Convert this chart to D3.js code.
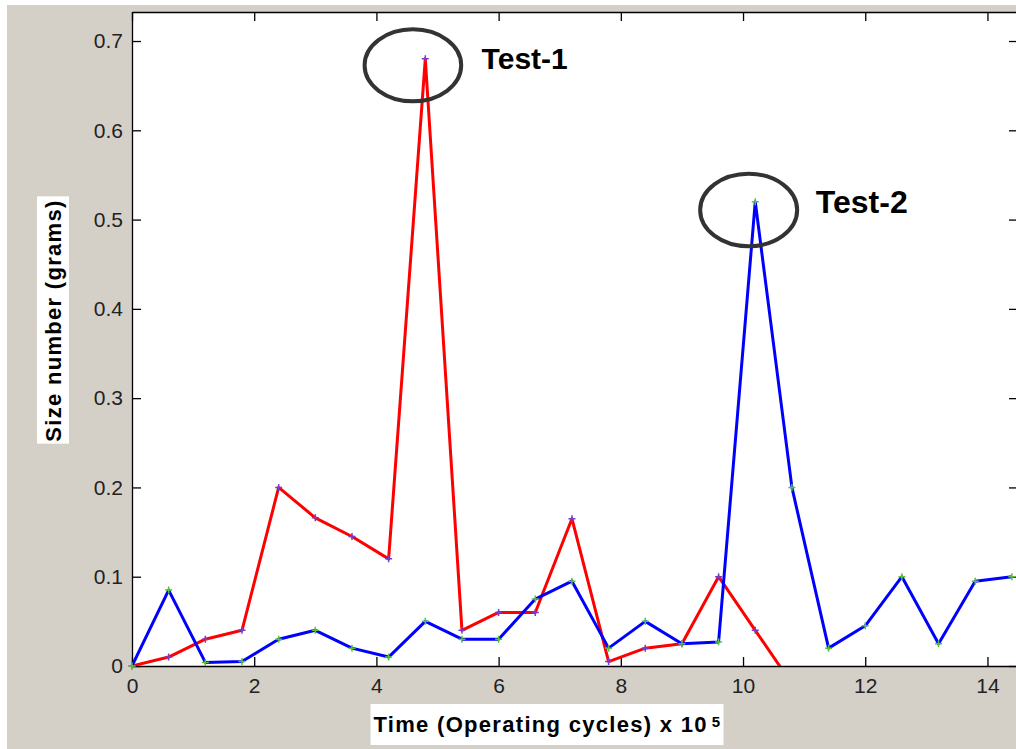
<!DOCTYPE html>
<html>
<head>
<meta charset="utf-8">
<script src="https://cdn.jsdelivr.net/npm/d3@7"></script>
<style>
  body { margin: 0; background: #ffffff; }
  svg { display: block; font-family: "Liberation Sans", Arial, sans-serif; }
  .axis text { font-size: 21px; fill: #222; }
  .axis path, .axis line { stroke: #000; stroke-width: 1.3px; }
</style>
</head>
<body>
<svg id="chart"></svg>
<script>
// time in operating cycles (x 10^5)
let cycles = [0, 0.6, 1.2, 1.8, 2.4, 3.0, 3.6, 4.2, 4.8, 5.4, 6.0, 6.6, 7.2,
  7.8, 8.4, 9.0, 9.6, 10.2, 10.8, 11.4, 12.0, 12.6, 13.2, 13.8, 14.4];

// size number (grams), red curve - ends after 10.8 (goes below zero)
let test1 = [0, 0.01, 0.03, 0.04, 0.2, 0.166, 0.145, 0.12, 0.68, 0.04, 0.06,
  0.06, 0.165, 0.005, 0.02, 0.025, 0.1, 0.04, -0.02];

// size number (grams), blue curve
let test2 = [0, 0.085, 0.004, 0.005, 0.03, 0.04, 0.02, 0.01, 0.05, 0.03, 0.03,
  0.075, 0.095, 0.02, 0.05, 0.025, 0.027, 0.52, 0.2, 0.02, 0.045, 0.1, 0.025,
  0.095, 0.1];

let xTicks = [0, 2, 4, 6, 8, 10, 12, 14];
let yTicks = [0, 0.1, 0.2, 0.3, 0.4, 0.5, 0.6, 0.7];

let noteLabels = ['Test-1', 'Test-2'];

let config = {
  'svg': {},
  'plot': {},
  'notes': []
};

config.svg.width = 1016;
config.svg.height = 749;

config.plot.x = 132;
config.plot.y = 12;
config.plot.width = 886;
config.plot.height = 654;

// ellipse + label offsets relative to each peak, in pixels
config.notes = [
  { series: 0, dx: -12.4, dy: 6.5, rx: 48.3, ry: 36, tx: 56.3, ty: 10.5, size: 30 },
  { series: 1, dx: -6.6, dy: 8.3, rx: 48.5, ry: 36.3, tx: 60.6, ty: 11.6, size: 32 }
];

let svg = d3.select('svg#chart')
  .attr('width', config.svg.width)
  .attr('height', config.svg.height);

// window background
svg.append('rect')
  .attr('x', 7).attr('y', 5)
  .attr('width', config.svg.width - 7)
  .attr('height', config.svg.height - 5)
  .attr('fill', '#d4d0c8');

svg.append('rect')
  .attr('x', config.plot.x).attr('y', config.plot.y)
  .attr('width', config.plot.width).attr('height', config.plot.height)
  .attr('fill', '#fff');

svg.append('defs').append('clipPath')
  .attr('id', 'clip')
  .append('rect')
  .attr('width', config.plot.width)
  .attr('height', config.plot.height);

let scale = {};

scale.x = d3.scaleLinear()
  .domain([0, 14.5])
  .range([0, config.plot.width]);

scale.y = d3.scaleLinear()
  .domain([0, 0.7325])
  .range([config.plot.height, 0]);

let axis = {};

axis.bottom = d3.axisBottom(scale.x).tickValues(xTicks).tickFormat(d3.format('d'))
  .tickSizeInner(-9).tickSizeOuter(0).tickPadding(12);
axis.top = d3.axisTop(scale.x).tickValues(xTicks).tickFormat('')
  .tickSizeInner(-9).tickSizeOuter(0);
axis.left = d3.axisLeft(scale.y).tickValues(yTicks).tickFormat(d => d === 0 ? '0' : d3.format('.1f')(d))
  .tickSizeInner(-9).tickSizeOuter(0).tickPadding(9);
axis.right = d3.axisRight(scale.y).tickValues(yTicks).tickFormat('')
  .tickSizeInner(-9).tickSizeOuter(0);

svg.append('g').attr('class', 'axis')
  .attr('transform', translate(config.plot.x, config.plot.y + config.plot.height))
  .call(axis.bottom);
svg.append('g').attr('class', 'axis')
  .attr('transform', translate(config.plot.x, config.plot.y))
  .call(axis.top);
svg.append('g').attr('class', 'axis')
  .attr('transform', translate(config.plot.x, config.plot.y))
  .call(axis.left);
svg.append('g').attr('class', 'axis')
  .attr('transform', translate(config.plot.x + config.plot.width, config.plot.y))
  .call(axis.right);

let plot = svg.append('g')
  .attr('id', 'plot')
  .attr('transform', translate(config.plot.x, config.plot.y));

let series = [
  { values: test1, line: '#ff0000', marker: '#7a3cc8' },
  { values: test2, line: '#0000ff', marker: '#55c23a' }
];

let line = d3.line()
  .x((d, i) => scale.x(cycles[i]))
  .y(d => scale.y(d));

series.forEach(function(s) {
  plot.append('path')
    .datum(s.values)
    .attr('clip-path', 'url(#clip)')
    .attr('fill', 'none')
    .attr('stroke', s.line)
    .attr('stroke-width', 3)
    .attr('stroke-linejoin', 'round')
    .attr('d', line);

  let pts = s.values.map((v, i) => ({ x: cycles[i], y: v })).filter(p => p.y >= 0);

  plot.append('g').selectAll('path')
    .data(pts)
    .enter()
    .append('path')
    .attr('transform', d => translate(scale.x(d.x), scale.y(d.y)))
    .attr('d', 'M-3.5,0H3.5M0,-3.5V3.5')
    .attr('stroke', s.marker)
    .attr('stroke-width', 1.5);
});

// circled peaks
config.notes.forEach(function(n, i) {
  let vals = series[n.series].values;
  let k = vals.indexOf(d3.max(vals));
  let px = scale.x(cycles[k]);
  let py = scale.y(vals[k]);

  plot.append('ellipse')
    .attr('cx', px + n.dx).attr('cy', py + n.dy)
    .attr('rx', n.rx).attr('ry', n.ry)
    .attr('fill', 'none')
    .attr('stroke', '#333')
    .attr('stroke-width', 4);

  plot.append('text')
    .text(noteLabels[i])
    .attr('x', px + n.tx).attr('y', py + n.ty)
    .attr('font-size', n.size + 'px')
    .attr('font-weight', 'bold')
    .attr('fill', '#000');
});

drawTitles();

function drawTitles() {
  let xt = svg.append('text')
    .attr('x', 547.5)
    .attr('y', 731.7)
    .attr('text-anchor', 'middle')
    .attr('font-size', '22px')
    .attr('font-weight', 'bold')
    .attr('letter-spacing', '1.3px');
  xt.append('tspan').text('Time (Operating cycles) x 10');
  xt.append('tspan').text('5')
    .attr('dx', 4).attr('dy', -5)
    .attr('font-size', '15px');

  let yt = svg.append('text')
    .text('Size number (grams)')
    .attr('transform', translate(61, 320.5) + ' rotate(-90)')
    .attr('text-anchor', 'middle')
    .attr('font-size', '22px')
    .attr('font-weight', 'bold')
    .attr('letter-spacing', '1.3px');

  let bx = xt.node().getBBox();
  svg.insert('rect', () => xt.node())
    .attr('x', bx.x - 3).attr('y', 704)
    .attr('width', bx.width + 5).attr('height', 41)
    .attr('fill', '#fff');

  let by = yt.node().getBBox();
  svg.insert('rect', () => yt.node())
    .attr('x', 37).attr('y', 320.5 - by.width / 2 - 3)
    .attr('width', 32).attr('height', by.width + 5)
    .attr('fill', '#fff');
}

function translate(x, y) {
  return 'translate(' + x + ',' + y + ')';
}
</script>
</body>
</html>
